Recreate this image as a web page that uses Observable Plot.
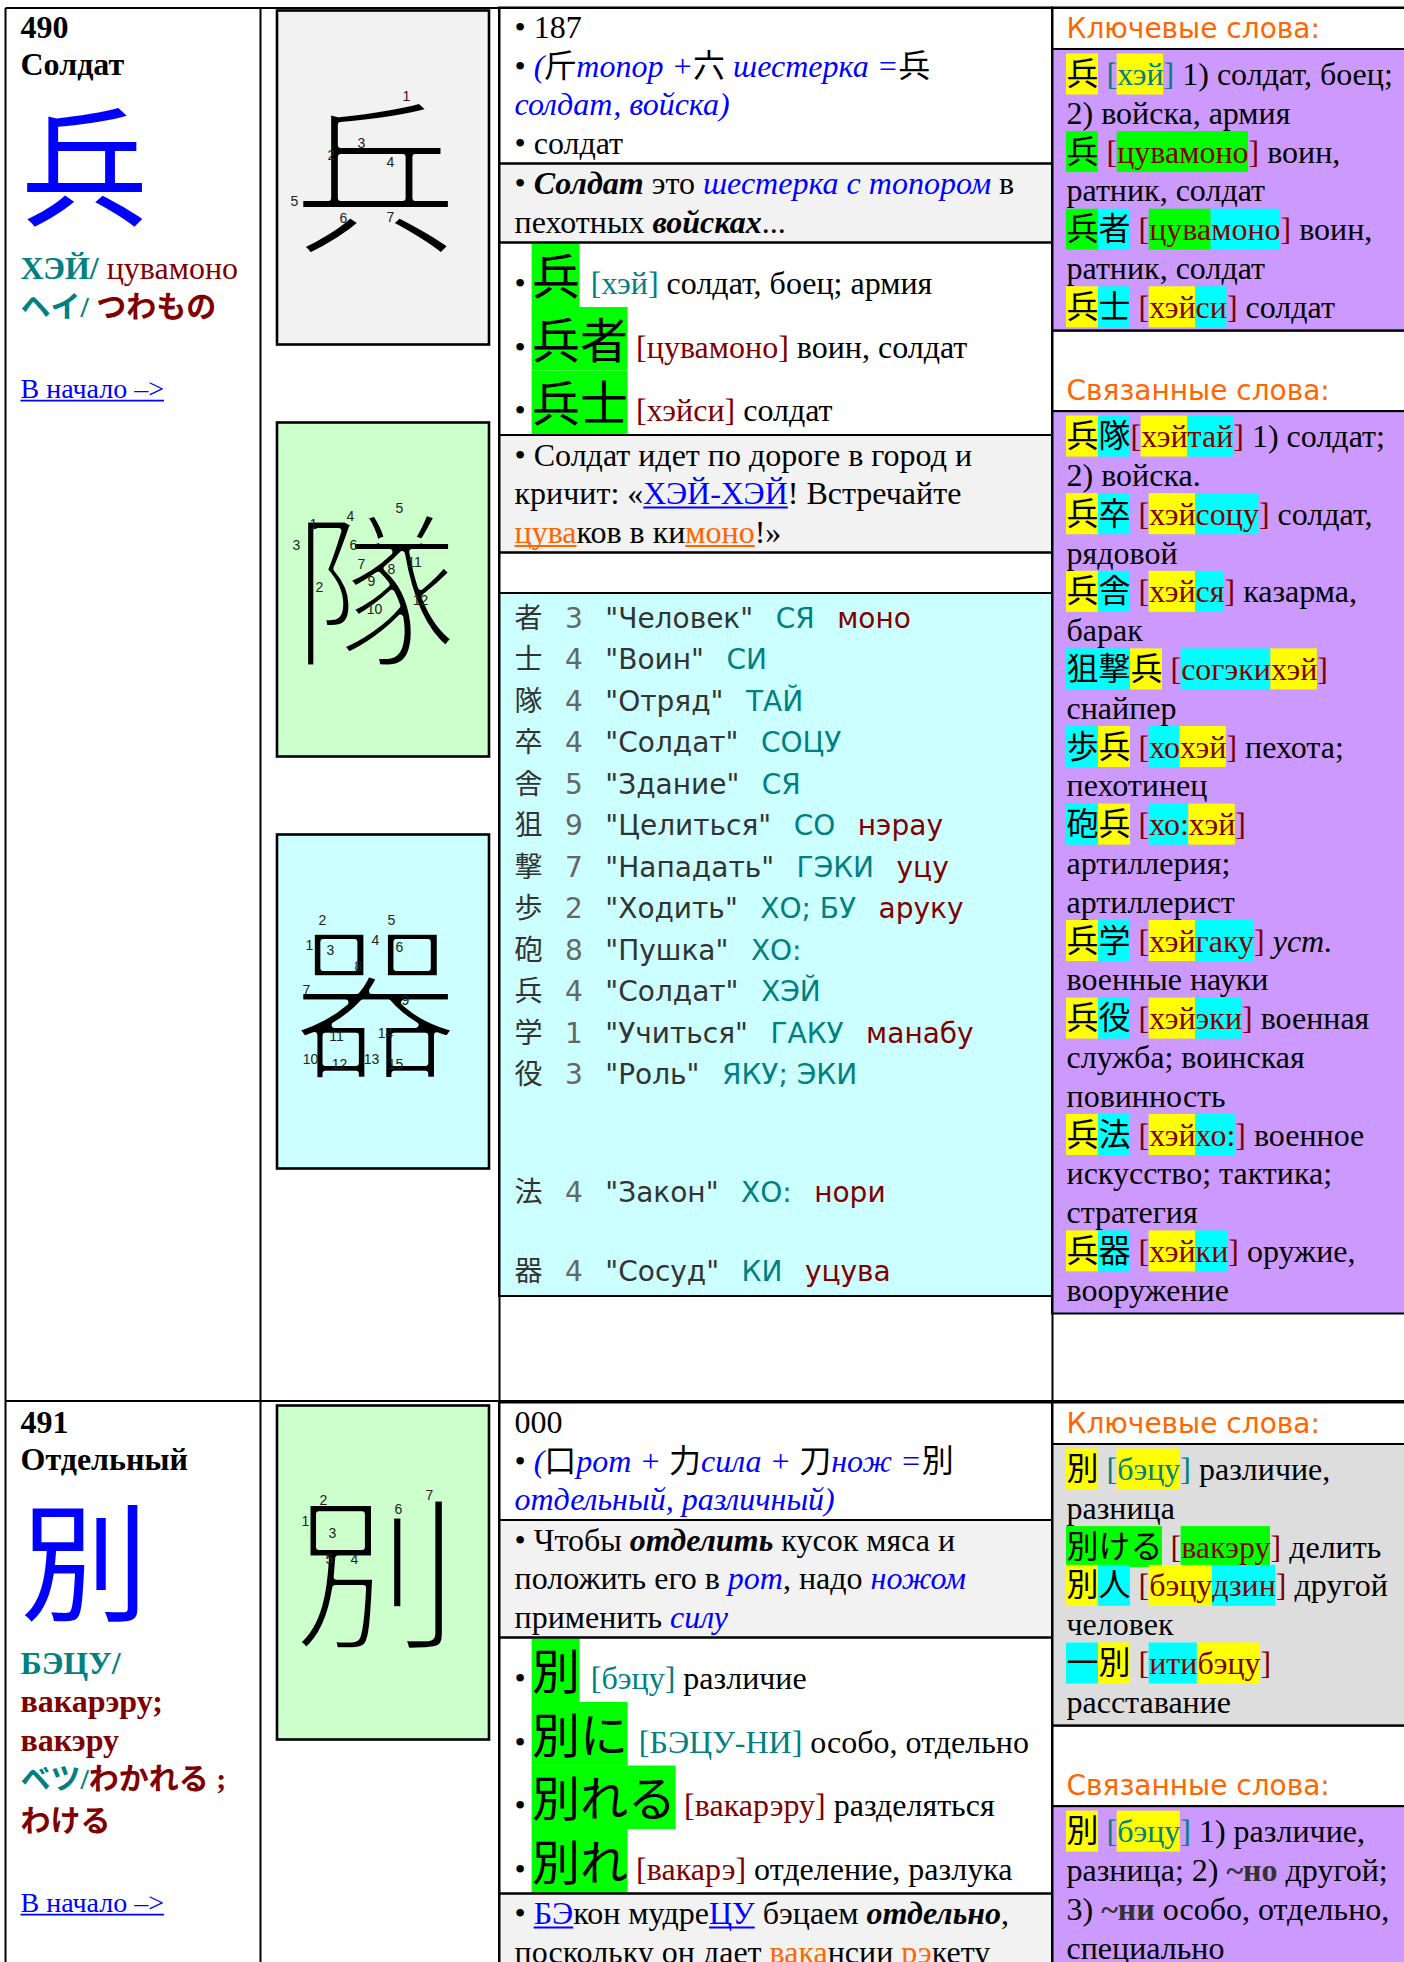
<!DOCTYPE html>
<html><head><meta charset="utf-8">
<script src="https://cdn.jsdelivr.net/npm/d3@7"></script>
<script src="https://cdn.jsdelivr.net/npm/@observablehq/plot@0.6"></script>
<style>
html,body{margin:0;padding:0;background:#fff;overflow:hidden}
svg text{white-space:pre}
</style>
</head><body>
<script>
// ================= DATA (content only) =================
const entryNumbers = ["490", "491"];
const entryTitles = ["Солдат", "Отдельный"];
const entryKanji = ["兵", "別"];
const readingLines = [
  ["{bteal:ХЭЙ/}{red: цувамоно}"],
  ["{bteal:БЭЦУ/}", "{bred:вакарэру;}", "{bred:вакэру}"]
];
const kanaLines = [
  ["{jteal:ヘイ/ }{jred:つわもの}"],
  ["{jteal:ベツ/}{jred:わかれる ;}", "{jred:わける}"]
];
const backLinkText = "В начало –>";

// stroke-order boxes
const strokeKanji = [["兵", "隊", "器"], ["別"]];
const strokeTints = [["gray", "green", "cyan"], ["green"]];
// [stroke number, offset right, offset down] inside each box
const strokeNumbersHei = [[1,129,85],[2,54,144],[3,84,132],[4,113,151],[5,17,190],[6,66,207],[7,113,206]];
const strokeNumbersTai = [[1,36,101],[2,42,164],[3,19,122],[4,73,93],[5,122,85],[6,76,122],[7,84,141],[8,114,146],[9,94,158],[10,97,186],[11,137,139],[12,143,177]];
const strokeNumbersKi = [[1,32,110],[2,45,85],[3,53,115],[4,98,105],[5,114,85],[6,122,112],[7,29,155],[8,81,131],[9,128,165],[10,33,224],[11,59,201],[12,62,229],[13,94,224],[14,108,198],[15,118,229]];
const strokeNumbersBetsu = [[1,28,115],[2,46,94],[3,55,127],[4,77,153],[5,52,153],[6,121,103],[7,152,89]];

// middle column, entry 490
const origin490 = [
  "• 187",
  "• {i:(}斤{i:топор +}六{i: шестерка =}兵",
  "{i:солдат, войска)}",
  "• солдат"
];
const hint490 = [
  "• {bi:Солдат} это {i:шестерка с топором} в",
  "пехотных {bi:войсках}..."
];
const words490 = [
  "•\u2009{big.g:兵}{big: }{teal:[хэй]} солдат, боец; армия",
  "•\u2009{big.g:兵者} {red:[цувамоно]} воин, солдат",
  "•\u2009{big.g:兵士} {red:[хэйси]} солдат"
];
const story490 = [
  "• Солдат идет по дороге в город и",
  "кричит: «{link:ХЭЙ-ХЭЙ}! Встречайте",
  "{olink:цува}ков в ки{olink:моно}!»"
];
const radicalKanji    = ["者","士","隊","卒","舎","狙","撃","歩","砲","兵","学","役",null,null,"法",null,"器"];
const radicalStrokes  = [3,4,4,4,5,9,7,2,8,4,1,3,null,null,4,null,4];
const radicalMeanings = ["Человек","Воин","Отряд","Солдат","Здание","Целиться","Нападать","Ходить","Пушка","Солдат","Учиться","Роль",null,null,"Закон",null,"Сосуд"];
const radicalOn       = ["СЯ","СИ","ТАЙ","СОЦУ","СЯ","СО","ГЭКИ","ХО; БУ","ХО:","ХЭЙ","ГАКУ","ЯКУ; ЭКИ",null,null,"ХО:",null,"КИ"];
const radicalKun      = ["моно","","","","","нэрау","уцу","аруку","","","манабу","",null,null,"нори",null,"уцува"];

// middle column, entry 491
const origin491 = [
  "000",
  "• {i:(}口{i:рот + }力{i:сила + }刀{i:нож =}別",
  "{i:отдельный, различный)}"
];
const hint491 = [
  "• Чтобы {bi:отделить} кусок мяса и",
  "положить его в {i:рот}, надо {i:ножом}",
  "применить {i:силу}"
];
const words491 = [
  "•\u2009{big.g:別}{big: }{teal:[бэцу]} различие",
  "•\u2009{big.g:別に}{big: }{teal:[БЭЦУ-НИ]} особо, отдельно",
  "•\u2009{big.g:別れる} {red:[вакарэру]} разделяться",
  "•\u2009{big.g:別れ} {red:[вакарэ]} отделение, разлука"
];
const story491 = [
  "• {link:БЭ}кон мудре{link:ЦУ} бэцаем {bi:отдельно},",
  "поскольку он дает {orange:вака}нсии {orange:рэ}кету"
];

// right column
const headerKeyWords = "Ключевые слова:";
const headerRelated = "Связанные слова:";
const keyWords490 = [
  "{.y:兵} {teal:[}{teal.y:хэй}{teal:]} 1) солдат, боец;",
  "2) войска, армия",
  "{.g:兵} {red:[}{red.g:цувамоно}{red:]} воин,",
  "ратник, солдат",
  "{.g:兵}{.c:者} {red:[}{red.g:цува}{red.c:моно}{red:]} воин,",
  "ратник, солдат",
  "{.y:兵}{.c:士} {red:[}{red.y:хэй}{red.c:си}{red:]} солдат"
];
const related490 = [
  "{.y:兵}{.c:隊}{red:[}{red.y:хэй}{red.c:тай}{red:]} 1) солдат;",
  "2) войска.",
  "{.y:兵}{.c:卒} {red:[}{red.y:хэй}{red.c:соцу}{red:]} солдат,",
  "рядовой",
  "{.y:兵}{.c:舎} {red:[}{red.y:хэй}{red.c:ся}{red:]} казарма,",
  "барак",
  "{.c:狙撃}{.y:兵} {red:[}{red.c:согэки}{red.y:хэй}{red:]}",
  "снайпер",
  "{.c:歩}{.y:兵} {red:[}{red.c:хо}{red.y:хэй}{red:]} пехота;",
  "пехотинец",
  "{.c:砲}{.y:兵} {red:[}{red.c:хо:}{red.y:хэй}{red:]}",
  "артиллерия;",
  "артиллерист",
  "{.y:兵}{.c:学} {red:[}{red.y:хэй}{red.c:гаку}{red:]} {ib:уст.}",
  "военные науки",
  "{.y:兵}{.c:役} {red:[}{red.y:хэй}{red.c:эки}{red:]} военная",
  "служба; воинская",
  "повинность",
  "{.y:兵}{.c:法} {red:[}{red.y:хэй}{red.c:хо:}{red:]} военное",
  "искусство; тактика;",
  "стратегия",
  "{.y:兵}{.c:器} {red:[}{red.y:хэй}{red.c:ки}{red:]} оружие,",
  "вооружение"
];
const keyWords491 = [
  "{.y:別} {teal:[}{teal.y:бэцу}{teal:]} различие,",
  "разница",
  "{.g:別ける} {red:[}{red.g:вакэру}{red:]} делить",
  "{.y:別}{.c:人} {red:[}{red.y:бэцу}{red.c:дзин}{red:]} другой",
  "человек",
  "{.c:一}{.y:別} {red:[}{red.c:ити}{red.y:бэцу}{red:]}",
  "расставание"
];
const related491 = [
  "{.y:別} {teal:[}{teal.y:бэцу}{teal:]} 1) различие,",
  "разница; 2) {bd:~но} другой;",
  "3) {bd:~ни} особо, отдельно,",
  "специально"
];

// ================= STYLES =================
const W = 1404, H = 1962;
const FAMILY = {
  serif: '"Liberation Serif", "Noto Sans CJK JP", serif',
  sans: '"DejaVu Sans", "Noto Sans CJK JP", sans-serif',
  cjk: '"Noto Sans CJK JP", sans-serif',
  label: '"Liberation Sans", Arial, sans-serif'
};
const COL = {black:"#000000", blue:"#0000ff", teal:"#008080", red:"#800000", orange:"#ff6600", dark:"#333333", gray:"#666666"};
function S(family, size, weight, style, color, underline = false) { return {family, size, weight, style, color, underline}; }
const STYLES = {
  n: S("serif",32,"normal","normal",COL.black),
  b: S("serif",32,"bold","normal",COL.black),
  bi: S("serif",32,"bold","italic",COL.black),
  i: S("serif",32,"normal","italic",COL.blue),
  ib: S("serif",32,"normal","italic",COL.black),
  bd: S("serif",32,"bold","normal",COL.dark),
  teal: S("serif",32,"normal","normal",COL.teal),
  red: S("serif",32,"normal","normal",COL.red),
  bteal: S("serif",32,"bold","normal",COL.teal),
  bred: S("serif",32,"bold","normal",COL.red),
  jteal: S("serif",30,"bold","normal",COL.teal),
  jred: S("serif",30,"bold","normal",COL.red),
  big: S("cjk",48,"normal","normal",COL.black),
  link: S("serif",32,"normal","normal",COL.blue,true),
  olink: S("serif",32,"normal","normal",COL.orange,true),
  orange: S("serif",32,"normal","normal",COL.orange),
  back: S("serif",28,"normal","normal",COL.blue,true),
  head: S("sans",28,"normal","normal",COL.orange),
  hero: S("cjk",128,"normal","normal",COL.blue),
  rk: S("sans",28,"normal","normal",COL.dark),
  rn: S("sans",28,"normal","normal",COL.gray),
  rm: S("sans",28,"normal","normal",COL.dark),
  ro: S("sans",28,"normal","normal",COL.teal),
  rkun: S("sans",28,"normal","normal",COL.red),
  stroke: S("cjk",168,"normal","normal","#000000"),
  num: S("label",14,"normal","normal","#222222")
};
const HL = {g:"#00ff00", y:"#ffff00", c:"#00ffff"};
const TINT = {white:"#ffffff", gray:"#f2f2f2", cyan:"#ccffff", purple:"#cc99ff", keygray:"#dddddd", green:"#ccffcc"};

// ================= LAYOUT CONSTANTS =================
const TABLE = {left: 5, top: 7.5, cols: [5, 260, 499, 1052], rowSep: 1400.5, rowTops: [7.5, 1402.5], line: 2};
const LEFT = {tx: 20, numH: 37, numBase: 30, heroH: 166.5, heroBase: 134, lineH: 38.5, lineBase: 30, kanaH: 42, kanaBase: 29.5};
const STROKE = {x1: 277, x2: 489, top: 3, h: 334, gap: 78, glyphDx: -8, center: 0.38, thin: 6};
const MID = {x1: 499, x2: 1052, tx: 514, lh: 38.5, pad: 2, base: 30, bigLh: 63.5, bigBase: 50, listLh: 41.5, listBlank: 38, listBase: 34, listPad: 8, gap: 22.5};
const RIGHT = {x1: 1052, x2: 1412, tx: 1066, lh: 38.8, headH: 41.5, headBase: 30, spacer: 39, boxPad: 10, boxBase: 35.5, hlUp: 31, hlDown: 10};

// ================= ENGINE =================
const framed = [], hlRects = [], texts = [], glyphs = [], lines = [];
const ctx = document.createElement("canvas").getContext("2d");
function fontOf(st) { return `${st.style} ${st.weight} ${st.size}px ${FAMILY[st.family]}`; }
function measure(str, st) { ctx.font = fontOf(st); return ctx.measureText(str).width; }
function keyOf(st, anchor) { return [st.family, st.weight, st.style, anchor].join("|"); }
function parseMarkup(markup, def) {
  const segs = [], re = /\{(\w*)(?:\.(\w+))?:([^}]*)\}|([^{]+)/g;
  let m;
  while ((m = re.exec(markup))) {
    if (m[4] !== undefined) segs.push({text: m[4], style: def, bg: null});
    else segs.push({text: m[3], style: m[1] || def, bg: m[2] || null});
  }
  return segs;
}
function placeLine(markup, x0, base, opt = {}) {
  let x = x0;
  for (const seg of parseMarkup(markup, opt.def || "n")) {
    const st = STYLES[seg.style];
    const full = measure(seg.text, st);
    const trimmed = seg.text.trim();
    const lead = seg.text.length - seg.text.trimStart().length;
    const xs = x + (lead ? measure(seg.text.slice(0, lead), st) : 0);
    if (seg.bg) hlRects.push({x1: x, x2: x + full,
      y1: opt.y1 != null ? opt.y1 : base - RIGHT.hlUp,
      y2: opt.y2 != null ? opt.y2 : base + RIGHT.hlDown, fill: HL[seg.bg]});
    if (trimmed) {
      texts.push({x: xs, y: base, text: trimmed, fill: st.color, size: st.size, key: keyOf(st, "start")});
      if (st.underline) {
        const uy = base + st.size * 0.11;
        lines.push({x1: xs, x2: xs + measure(trimmed, st), y1: uy, y2: uy, stroke: st.color, w: 1.8});
      }
    }
    x += full;
  }
}

function layoutLeft(k, top) {
  let y = top;
  placeLine(entryNumbers[k], LEFT.tx, y + LEFT.numBase, {def: "b"}); y += LEFT.numH;
  placeLine(entryTitles[k], LEFT.tx, y + LEFT.numBase, {def: "b"}); y += LEFT.numH;
  placeLine(entryKanji[k], LEFT.tx, y + LEFT.heroBase, {def: "hero"}); y += LEFT.heroH;
  for (const ln of readingLines[k]) { placeLine(ln, LEFT.tx, y + LEFT.lineBase); y += LEFT.lineH; }
  for (const ln of kanaLines[k]) { placeLine(ln, LEFT.tx, y + LEFT.kanaBase); y += LEFT.kanaH; }
  y += LEFT.lineH; // empty line
  placeLine(backLinkText, LEFT.tx, y + LEFT.lineBase, {def: "back"});
}

const strokeNumberSets = {"兵": strokeNumbersHei, "隊": strokeNumbersTai, "器": strokeNumbersKi, "別": strokeNumbersBetsu};
function layoutStroke(k, top) {
  strokeKanji[k].forEach((ch, i) => {
    const y1 = top + STROKE.top + i * (STROKE.h + STROKE.gap), y2 = y1 + STROKE.h;
    const tint = TINT[strokeTints[k][i]];
    framed.push({x1: STROKE.x1, x2: STROKE.x2, y1, y2, fill: tint, w: 2.6});
    const cx = (STROKE.x1 + STROKE.x2) / 2 + STROKE.glyphDx, cy = (y1 + y2) / 2;
    const st = STYLES.stroke;
    glyphs.push({x: cx, y: cy + STROKE.center * st.size, text: ch, fill: st.color, size: st.size, bg: tint});
    for (const [n, dx, dy] of strokeNumberSets[ch]) {
      const sn = STYLES.num;
      texts.push({x: STROKE.x1 + dx, y: y1 + dy + 0.36 * sn.size, text: String(n), fill: sn.color, size: sn.size, key: keyOf(sn, "middle")});
    }
  });
}

function layoutMid(top, blocks) {
  let y = top;
  for (const [kind, content, tint] of blocks) {
    let h = 0;
    if (kind === "text") {
      h = content.length * MID.lh + MID.pad;
      content.forEach((ln, i) => placeLine(ln, MID.tx, y + MID.base + i * MID.lh));
    } else if (kind === "big") {
      h = content.length * MID.bigLh + MID.pad;
      content.forEach((ln, i) => {
        const t = y + 1 + i * MID.bigLh;
        placeLine(ln, MID.tx, t + MID.bigBase, {y1: t, y2: t + MID.bigLh});
      });
    } else if (kind === "blank") {
      h = MID.lh + MID.pad;
    } else if (kind === "list") {
      let yy = y;
      for (let i = 0; i < radicalKanji.length; i++) {
        if (radicalKanji[i] == null) { yy += MID.listBlank; continue; }
        const b = yy + MID.listBase;
        let x = MID.tx;
        const parts = [[radicalKanji[i], "rk"], [String(radicalStrokes[i]), "rn"], [`"${radicalMeanings[i]}"`, "rm"], [radicalOn[i], "ro"], [radicalKun[i], "rkun"]];
        for (const [t, s] of parts) {
          if (!t) continue;
          const st = STYLES[s];
          texts.push({x, y: b, text: t, fill: st.color, size: st.size, key: keyOf(st, "start")});
          x += measure(t, st) + MID.gap;
        }
        yy += MID.listLh;
      }
      h = yy - y + MID.listPad;
    }
    framed.push({x1: MID.x1, x2: MID.x2, y1: y, y2: y + h, fill: TINT[tint], w: TABLE.line});
    y += h;
  }
}

function layoutRight(top, blocks) {
  let y = top;
  for (const [kind, content, tint] of blocks) {
    let h = 0;
    if (kind === "head" || kind === "head2") {
      const pre = kind === "head2" ? RIGHT.spacer : 0;
      h = pre + RIGHT.headH;
      placeLine(content, RIGHT.tx, y + pre + RIGHT.headBase, {def: "head"});
    } else if (kind === "box") {
      h = content.length * RIGHT.lh + RIGHT.boxPad;
      content.forEach((ln, i) => placeLine(ln, RIGHT.tx, y + RIGHT.boxBase + i * RIGHT.lh));
    }
    framed.push({x1: RIGHT.x1, x2: RIGHT.x2, y1: y, y2: y + h, fill: TINT[tint || "white"], w: TABLE.line});
    y += h;
  }
}

// entry 490
layoutLeft(0, TABLE.rowTops[0]);
layoutStroke(0, TABLE.rowTops[0]);
layoutMid(TABLE.rowTops[0], [["text", origin490, "white"], ["text", hint490, "gray"], ["big", words490, "white"], ["text", story490, "gray"], ["blank", null, "white"], ["list", null, "cyan"]]);
layoutRight(TABLE.rowTops[0], [["head", headerKeyWords], ["box", keyWords490, "purple"], ["head2", headerRelated], ["box", related490, "purple"]]);
// entry 491
layoutLeft(1, TABLE.rowTops[1]);
layoutStroke(1, TABLE.rowTops[1]);
layoutMid(TABLE.rowTops[1], [["text", origin491, "white"], ["text", hint491, "gray"], ["big", words491, "white"], ["text", story491, "gray"]]);
layoutRight(TABLE.rowTops[1], [["head", headerKeyWords], ["box", keyWords491, "keygray"], ["head2", headerRelated], ["box", related491, "purple"]]);

// table grid
const gridLines = [
  {x1: TABLE.left, x2: W + 10, y1: TABLE.top, y2: TABLE.top, stroke: "#000", w: TABLE.line},
  {x1: TABLE.left, x2: W + 10, y1: TABLE.rowSep, y2: TABLE.rowSep, stroke: "#000", w: TABLE.line},
  ...TABLE.cols.map(x => ({x1: x, x2: x, y1: TABLE.top, y2: H + 10, stroke: "#000", w: TABLE.line}))
];

// ================= PLOT =================
const groups = new Map();
for (const t of texts) { if (!groups.has(t.key)) groups.set(t.key, []); groups.get(t.key).push(t); }
const textMarks = [...groups].map(([key, arr]) => {
  const [family, weight, style, anchor] = key.split("|");
  return Plot.text(arr, {
    x: d => d.x, y: d => d.y, text: d => d.text, fill: d => d.fill, fontSize: d => d.size,
    fontFamily: FAMILY[family], fontWeight: weight, fontStyle: style,
    textAnchor: anchor, lineAnchor: "bottom"
  });
});
// stroke-order glyphs: a stroke in the box colour painted over the fill thins the pen lines
const glyphMark = Plot.text(glyphs, {
  x: d => d.x, y: d => d.y, text: d => d.text, fill: d => d.fill, stroke: d => d.bg,
  strokeWidth: STROKE.thin, paintOrder: "normal", strokeLinejoin: "round",
  fontSize: d => d.size, fontFamily: FAMILY.cjk, textAnchor: "middle", lineAnchor: "bottom"
});

const chart = Plot.plot({
  width: W, height: H, margin: 0,
  x: {domain: [0, W], range: [0, W], axis: null},
  y: {domain: [0, H], range: [0, H], axis: null},
  color: {type: "identity"},
  marks: [
    Plot.rect(framed, {x1: d => d.x1, x2: d => d.x2, y1: d => d.y1, y2: d => d.y2, fill: d => d.fill}),
    Plot.rect(hlRects, {x1: d => d.x1, x2: d => d.x2, y1: d => d.y1, y2: d => d.y2, fill: d => d.fill}),
    Plot.rect(framed, {x1: d => d.x1, x2: d => d.x2, y1: d => d.y1, y2: d => d.y2, fill: "none", stroke: "#000", strokeWidth: d => d.w}),
    Plot.link(gridLines, {x1: d => d.x1, x2: d => d.x2, y1: d => d.y1, y2: d => d.y2, stroke: d => d.stroke, strokeWidth: d => d.w}),
    glyphMark,
    ...textMarks,
    Plot.link(lines, {x1: d => d.x1, x2: d => d.x2, y1: d => d.y1, y2: d => d.y2, stroke: d => d.stroke, strokeWidth: d => d.w})
  ]
});
document.body.appendChild(chart);
</script>
</body></html>
